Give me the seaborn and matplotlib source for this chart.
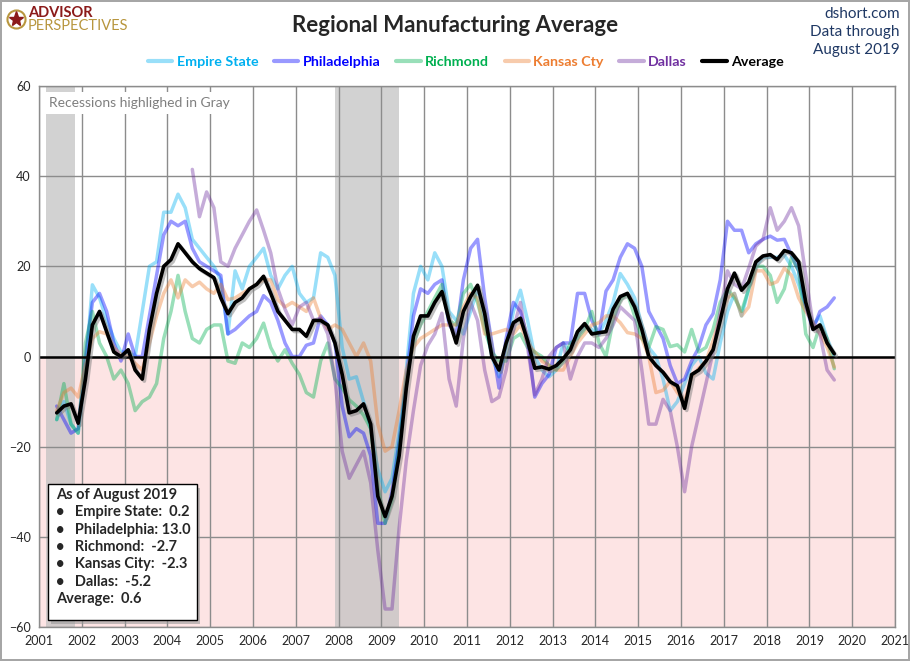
import numpy as np
import pandas as pd
import matplotlib
matplotlib.use('Agg')
import matplotlib.pyplot as plt
import matplotlib.dates as mdates
import matplotlib.patheffects as pe
from matplotlib.lines import Line2D
from matplotlib.patches import Rectangle
import seaborn as sns

# bimonthly readings, Jun 2001 .. Aug 2019
dates = pd.date_range('2001-06-01', '2019-08-01', freq='2MS')

empire = [-14, -10, -15, -17,
          -3, 15.9, 13, 8, 4, 1,
          1, 0, 10, 20, 21, 32,
          32, 36, 33, 26, 24, 22,
          20, 17, 5, 19, 15, 20,
          22, 24, 18, 15, 18, 20,
          14, 12, 13, 23, 22, 18,
          2, -5, -4.5, -10, -16, -25,
          -30, -27, -17, -3, 14, 20,
          17, 23, 20, 10, 8, 5,
          10, 15, 8, 0, -4.5, 2,
          10, 14.7, 8, 0, -3, -4.5,
          -3, 3, 1, 5, 7, 6,
          5, 8, 12, 18.4, 16, 13,
          7, 2, 0, -5, -12, -10,
          -6, -2, 0, -3.7, -5, 3,
          10, 14, 9, 15, 20, 22,
          22, 22, 22.5, 20, 16, 11,
          7, 9, 4, 0.2]

philadelphia = [-11, -14, -17, -16,
                0, 12, 14, 10, 3, -1,
                5, 0, 0, 9, 18, 27,
                30, 29, 30, 24, 21, 20,
                19, 18, 5, 6, 7.5, 9,
                10, 13.5, 12, 8, 3, 0,
                0, 2.5, 3, 9, 7, 3,
                -11, -17.8, -16, -17, -22, -37,
                -37, -30, -19, -5, 9, 15,
                14, 16, 17, 7, 5, 17,
                24, 26, 13, 3, -7, 4,
                12, 10, 4, -9, -6, -4,
                2, 3, 3, 14, 14, 8,
                5, 14.5, 17, 22, 25, 24,
                20, 10, 7, 4, -2, -6,
                -5, -1, 2, 7, 9.5, 17,
                30, 28, 28, 23, 25, 26,
                26.7, 25.8, 26, 22.5, 19, 11,
                6, 10, 11, 13.0]

richmond = [-14, -6, -15, -17,
            3, 10, 3, 0, -5, -3,
            -6, -12, -10, -9, -6, 4,
            10, 18, 10, 4, 3, 6,
            7, 7, -1, -1.5, 3, 2,
            4, 7.4, 2, -1, 1.5, -1.5,
            -4, -8, -9, -1, 3, -5,
            -7, -9.6, -11, -13, -16, -29,
            -37, -32, -20, -5, 3, 7,
            10, 13, 16, 8, 7, 14,
            16, 12, 6, 1, -1, -1,
            4, 5, 2, 1, 0, -2,
            -3, -1, 3, 4, 6, 10,
            3, 0, 8, 12.5, 14, 9,
            4, 2, 6.6, 6, 2.2, 2.6,
            1, 6, 1, 2, 6, 12,
            15, 13, 10, 15, 20, 20,
            18, 12, 15, 22, 19, 5,
            2, 7, 4, -2.7]

kansas_city = [-12, -8, -7, -9,
               -2, 4, 5.5, 5, 2, 0.5,
               0, -1.5, -3, 3, 9, 14,
               17, 13, 17, 15.5, 16.5, 15,
               14, 16, 12.6, 13, 14, 15,
               16, 17, 17, 12.6, 11, 12,
               11, 10, 13, 8.5, 6, 7,
               6, 3, 0, 3, -1, -15,
               -21, -20, -12, -3, 2, 4,
               5, 6, 7, 7, 7, 11,
               14, 13, 5, 5, 5.5, 6,
               5, 7, 3, 1, -1, -2,
               -3, -3, 0, 3, 5, 7,
               7.5, 9, 9, 7.5, 5.3, 5,
               4, 0, -8, -7.5, -5.5, -8,
               -10, -4.6, -2.6, -1, 3.5, 9,
               13, 14, 9, 11, 19, 19,
               16, 16.6, 19.6, 18, 13, 10,
               7.5, 5, 2, -2.3]

# Dallas survey starts in mid 2004
dallas = [np.nan] * 19 + [
          41.5, 31, 36.5,
          33, 21, 20, 24, 27, 30,
          32.5, 28, 23, 15, 10.5, 7,
          11, 12, 8, 8.5, 5, -5,
          -21, -27, -24, -21, -28, -43,
          -56, -56, -38, -23, -12, -2,
          2.5, 5, 9.6, -5, -11, 4,
          12, 8, -3, -10, -9, -3,
          6, 12, 2, -8.5, -5, 0,
          2, 3, -5, 0, 3, 3,
          2, 4, 7, 11, 9.5, 8,
          -3, -15, -15, -9.5, -12, -20,
          -30, -20, -13, -6, 1, 10,
          19, 16, 15, 19.6, 24.5, 26,
          33, 28, 30, 33, 29, 18,
          7, 5, -3, -5.2]

average = [-12.5, -11, -10.5, -14.8,
           -5, 7, 10, 5.5, 1, 0,
           1.5, -3, -5, 6, 14, 20,
           21.5, 25, 23, 21, 19.5, 18.5,
           17.5, 13, 9.5, 12, 13, 15,
           16, 17.8, 14, 10, 8, 6,
           6, 4.5, 8, 8, 7, 3,
           -4, -12.5, -12, -10.5, -15, -31,
           -35.5, -31, -22, -7, 4.5, 9,
           9, 12, 14.4, 8, 3, 10,
           13.3, 15.8, 9.5, 0, -3, 3,
           7.5, 8.5, 3.5, -2.6, -2.3, -2.8,
           -2, -0.5, 1.5, 5.5, 7.3, 5,
           5.3, 5.5, 10.5, 13.3, 14, 11,
           6, 0, -2, -3.5, -5.6, -6.5,
           -11.5, -4, -3, -1, 1.5, 8,
           15, 18.5, 14.7, 16.5, 21, 22.3,
           22.6, 21.5, 23.5, 23, 21, 12,
           6, 7, 3, 0.6]

regions = ['Empire State', 'Philadelphia', 'Richmond', 'Kansas City', 'Dallas']
legend_names = ['Empire State', 'Philadelphia', 'Richmond', 'Kansas Cty', 'Dallas']
colors = ['#00B0F0', '#0000FF', '#00B050', '#ED7D31', '#7030A0']

recessions = [('2001-03-01', '2001-11-01'), ('2007-12-01', '2009-06-01')]

df = pd.DataFrame({'date': dates, 'Empire State': empire, 'Philadelphia': philadelphia,
                   'Richmond': richmond, 'Kansas City': kansas_city, 'Dallas': dallas,
                   'Average': average})
long_df = df.melt(id_vars='date', value_vars=regions, var_name='region', value_name='value').dropna()

sns.set_theme(style='white')
plt.rcParams['font.family'] = ['Lato', 'DejaVu Sans']

fig = plt.figure(figsize=(9.1, 6.61), dpi=100)
fig.patch.set_edgecolor('#A6A6A6')
fig.patch.set_linewidth(1.5)
ax = fig.add_axes([0.0429, 0.0514, 0.9407, 0.8185])

# background: pink below zero, gray recessions
ax.axhspan(-60, 0, color='#FDE4E4', zorder=0, lw=0)
for start, end in recessions:
    ax.axvspan(pd.Timestamp(start), pd.Timestamp(end), color='#BFBFBF', alpha=0.7, zorder=0.1, lw=0)

sns.lineplot(data=long_df, x='date', y='value', hue='region', hue_order=regions,
             palette=dict(zip(regions, colors)), alpha=0.4, linewidth=2.5,
             errorbar=None, legend=False, ax=ax, zorder=2)
sns.lineplot(data=df, x='date', y='Average', color='black', linewidth=2.6, ax=ax, zorder=3,
             path_effects=[pe.SimpleLineShadow(offset=(1.5, -1.5), shadow_color='gray', alpha=0.5),
                           pe.Normal()])
ax.axhline(0, color='black', lw=1.8, zorder=2.5)

ax.set_xlim(pd.Timestamp('2001-01-01'), pd.Timestamp('2021-01-01'))
ax.set_ylim(-60, 60)
ax.set_yticks(range(-60, 61, 20))
ax.xaxis.set_major_locator(mdates.YearLocator())
ax.xaxis.set_major_formatter(mdates.DateFormatter('%Y'))
ax.set_axisbelow(True)
ax.grid(True, color='#8C8C8C', lw=1)
ax.tick_params(length=0, labelsize=9, pad=6)
ax.set_xlabel('')
ax.set_ylabel('')
for s in ax.spines.values():
    s.set_color('#8C8C8C')
    s.set_linewidth(1)

ax.text(0.012, 0.968, 'Recessions highlighed in Gray', transform=ax.transAxes, color='#7F7F7F',
        fontsize=10, va='center', ha='left', zorder=5,
        bbox=dict(boxstyle='square,pad=0.35', fc='white', ec='none'))

# titles and header text
fig.text(0.5, 1 - 25 / 661, 'Regional Manufacturing Average', ha='center', va='center',
         fontsize=16, fontweight='bold')
for i, line in enumerate(['dshort.com', 'Data through', 'August 2019']):
    fig.text(0.989, 1 - (14 + 18 * i) / 661, line, ha='right', va='center', fontsize=11,
             color='#1F3864')

# logo
fig.add_artist(Line2D([16 / 910], [1 - 19 / 661], marker='o', ms=13, mfc='none', mec='#B8963E',
                      mew=1.5, transform=fig.transFigure))
fig.add_artist(Line2D([16 / 910], [1 - 19 / 661], marker='*', ms=11, color='#8B1A1A',
                      transform=fig.transFigure))
fig.text(28 / 910, 1 - 13 / 661, 'ADVISOR', fontsize=10.5, fontweight='bold', color='#8B1A1A',
         va='center', ha='left')
fig.text(28 / 910, 1 - 26 / 661, 'PERSPECTIVES', fontsize=10.5, color='#B8963E',
         va='center', ha='left')

# legend
handles = [Line2D([], [], color=c, alpha=0.4, lw=3) for c in colors]
handles.append(Line2D([], [], color='black', lw=3))
leg = fig.legend(handles, legend_names + ['Average'], loc='center', ncol=6,
                 bbox_to_anchor=(0.512, 1 - 62 / 661), frameon=False, handlelength=1.7,
                 handletextpad=0.3, columnspacing=1.1, prop={'weight': 'bold', 'size': 10.3})
for txt, c in zip(leg.get_texts(), colors + ['black']):
    txt.set_color(c)

# latest values box
fig.add_artist(Rectangle((51 / 910, 1 - 624 / 661), 149 / 910, 136 / 661, transform=fig.transFigure,
                         fc='#9A9A9A', ec='none', alpha=0.6))
fig.add_artist(Rectangle((48 / 910, 1 - 620 / 661), 149 / 910, 136 / 661, transform=fig.transFigure,
                         fc='white', ec='black', lw=1))
last = {r: df[r].iloc[-1] for r in regions + ['Average']}
box_text = (f"As of August 2019\n"
            f"•   Empire State:  {last['Empire State']:.1f}\n"
            f"•   Philadelphia: {last['Philadelphia']:.1f}\n"
            f"•   Richmond:  {last['Richmond']:.1f}\n"
            f"•   Kansas City:  {last['Kansas City']:.1f}\n"
            f"•   Dallas:  {last['Dallas']:.1f}\n"
            f"Average:  {last['Average']:.1f}")
fig.text(56 / 910, 1 - 488 / 661, box_text, ha='left', va='top', fontsize=10.5, fontweight='bold',
         linespacing=1.3)

fig.savefig('out.png', dpi=100)
